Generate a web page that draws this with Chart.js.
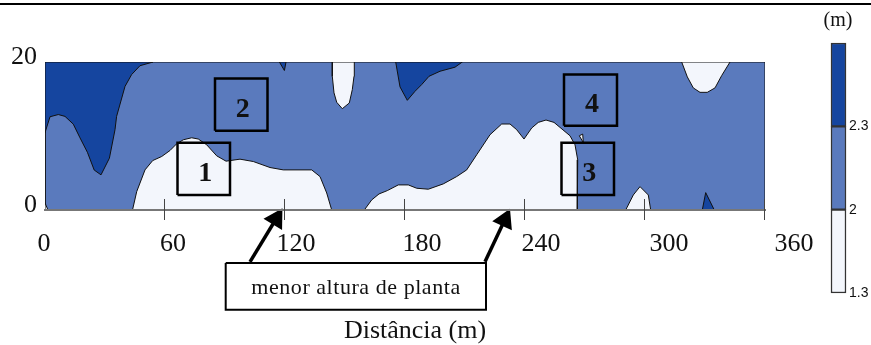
<!DOCTYPE html>
<html>
<head>
<meta charset="utf-8">
<title>Altura de planta</title>
<script src="https://cdn.jsdelivr.net/npm/chart.js@4"></script>
<style>
  html, body { margin: 0; padding: 0; background: #fff; }
  #wrap { position: relative; width: 871px; height: 345px; overflow: hidden; }
  #rule { position: absolute; left: 0; top: 3px; width: 871px; height: 2px; background: #000; }
  #chart { position: absolute; left: 0; top: 0; }
  #scale { position: absolute; left: 820px; top: 30px; }
</style>
</head>
<body>
<div id="wrap">
  <canvas id="chart" width="871" height="345"></canvas>
  <canvas id="scale" width="51" height="275"></canvas>
  <div id="rule"></div>
</div>
<script>
// contour areas, [distance m, width m]
const darkTopLeft = [[0,20],[54,20],[47.5,19.5],[43.3,18.3],[40,16.7],[35.8,12.65],[35,10.85],[32.2,7],[28,4.75],[24.6,5.4],[21.2,7.8],[17.5,9.75],[14.15,11.6],[10,12.65],[6.65,12.9],[2.5,12.6],[0,10.45]];
const darkNotch = [[117.2,20],[119.7,18.85],[120.5,20]];
const darkTopMid = [[175.35,20],[177.5,16.64],[181.15,14.82],[185,16.04],[188.35,16.95],[192,18.07],[197.5,18.75],[205,19.3],[208.65,20]];
const darkBottom = [[328.65,0],[330.35,2.35],[334.65,0]];
const lightCorner = [[0,0],[0,0.95],[1.5,0]];
const lightLeft = [[43.75,0],[45.85,2.48],[50,5.42],[53.85,6.68],[58.35,7.23],[62.5,8.04],[65.85,8.95],[69.15,9.49],[73.35,9.76],[76.65,9.59],[80.85,8.81],[85.85,7.32],[90.5,6.6],[97.5,6.87],[104.15,6.55],[112.5,5.74],[119.15,5.42],[133.35,5.42],[137.5,4.52],[140.85,2.3],[143.35,0]];
const lightDrop = [[143.65,20],[143.65,18.07],[144.5,15.83],[145.85,14.56],[148.65,13.69],[152.15,14.46],[153.65,16.27],[154.5,18.07],[154.65,20]];
const lightMid = [[159.65,0],[163.35,1.36],[167,2.17],[171.15,2.62],[176.65,3.39],[181.65,3.39],[185.85,2.94],[191.65,2.81],[199.15,3.53],[205.85,4.52],[210.85,5.42],[215.85,7.46],[222.5,10.17],[228.35,11.62],[232.5,11.62],[235.85,10.85],[239.5,9.59],[243.35,11.08],[246.65,11.84],[250.5,12.16],[254.5,11.84],[262.5,10.03],[265,8.81],[266.35,6.78],[266.15,0]];
const lightSpeck = [[267.15,10.03],[268.85,10.26],[269.15,9.12]];
const lightTopRight = [[318.35,20],[321.15,17.99],[324.15,16.5],[327.5,15.9],[331.15,15.9],[335,16.5],[338.35,18.17],[342.5,20]];
const lightBottom = [[290.35,0],[294.15,2.03],[297.5,3.16],[301.65,2.03],[302.85,0]];
const midField = [[0,0],[360,0],[360,20],[0,20]];

// numbered sample plots
const plotNames = ['1', '2', '3', '4'];
const plotXFrom = [66.25, 85, 258.25, 259.5];
const plotXTo = [92.5, 111.25, 284.5, 286];
const plotYFrom = [2.03, 10.71, 2.03, 11.39];
const plotYTo = [9.08, 17.76, 9.08, 18.3];

const noteText = 'menor altura de planta';
const noteBox = [[90.35,-7.15],[220.5,-7.15],[220.5,-13.47],[90.35,-13.47]];
const arrowOne = [[102.5,-7],[115.5,-1.22]];
const arrowTwo = [[220,-7],[229.85,-1.36]];

const xTickLabels = ['0', '60', '120', '180', '240', '300', '360'];
const yTickLabels = ['0', '20'];
const xTitle = 'Distância (m)';
const unitTitle = '(m)';

const scaleSegments = [1, 1, 1];
const scaleLabels = ['1.3', '2', '2.3', ''];

const colLight = '#f3f6fc';
const colMid = '#5a7abd';
const colDark = '#15459f';
const serif = '"Liberation Serif", serif';
const xLabelShift = [-1, 8, 11, 17, 16, 24, 29];

function toPts(list) {
  return list.map(p => ({ x: p[0], y: p[1] }));
}

function area(list, color) {
  return {
    data: toPts(list.concat([list[0]])),
    showLine: true, tension: 0, pointRadius: 0,
    borderColor: '#111', borderWidth: 1,
    backgroundColor: color, fill: 'shape'
  };
}

function outline(list, width, clip) {
  return {
    data: toPts(list.concat([list[0]])),
    showLine: true, tension: 0, pointRadius: 0,
    borderColor: '#000', borderWidth: width, fill: false, clip: clip
  };
}

function arrow(list, angle) {
  return {
    data: toPts(list),
    showLine: true, tension: 0, clip: false,
    borderColor: '#000', borderWidth: 3.5, fill: false,
    pointStyle: 'triangle',
    pointRadius: [0, 9], pointRotation: angle,
    pointBackgroundColor: '#000', pointBorderColor: '#000'
  };
}

const boxes = plotNames.map((n, i) => outline([
  [plotXFrom[i], plotYFrom[i]], [plotXTo[i], plotYFrom[i]],
  [plotXTo[i], plotYTo[i]], [plotXFrom[i], plotYTo[i]]
], 2.5, false));

// first dataset ends up on top
const datasets = [
  arrow(arrowOne, 31),
  arrow(arrowTwo, 25),
  outline(noteBox, 2, false),
  ...boxes,
  area(darkTopLeft, colDark),
  area(darkNotch, colDark),
  area(darkTopMid, colDark),
  area(darkBottom, colDark),
  area(lightCorner, colLight),
  area(lightLeft, colLight),
  area(lightDrop, colLight),
  area(lightMid, colLight),
  area(lightSpeck, colLight),
  area(lightTopRight, colLight),
  area(lightBottom, colLight),
  area(midField, colMid)
];

const extras = {
  id: 'extras',
  afterDraw(chart) {
    const { ctx } = chart;
    const x = chart.scales.x;
    const y = chart.scales.y;
    ctx.save();

    // ticks cross the axis line
    ctx.strokeStyle = '#444';
    ctx.lineWidth = 1;
    x.ticks.forEach(t => {
      if (t.value === 0) return;
      const px = Math.round(x.getPixelForValue(t.value)) - 0.5;
      ctx.beginPath();
      ctx.moveTo(px, y.bottom - 11);
      ctx.lineTo(px, y.bottom + 10);
      ctx.stroke();
    });

    ctx.fillStyle = '#111';
    ctx.textAlign = 'center';
    ctx.textBaseline = 'middle';

    ctx.font = '26px ' + serif;
    xTickLabels.forEach((label, i) => {
      ctx.fillText(label, x.getPixelForValue(Number(label)) + xLabelShift[i], y.bottom + 34);
    });
    ctx.fillText(xTitle, 415, 331);

    ctx.font = '20px ' + serif;
    ctx.fillText(unitTitle, 838, 20.5);

    ctx.font = '22px ' + serif;
    ctx.letterSpacing = '0.55px';
    ctx.fillText(noteText, 356, 288);
    ctx.letterSpacing = '0px';

    ctx.font = 'bold 28px ' + serif;
    plotNames.forEach((n, i) => {
      const cx = x.getPixelForValue((plotXFrom[i] + plotXTo[i]) / 2);
      const cy = y.getPixelForValue((plotYFrom[i] + plotYTo[i]) / 2);
      ctx.fillText(n, cx + 1.5, cy + 5);
    });
    ctx.restore();
  }
};

new Chart(document.getElementById('chart'), {
  type: 'scatter',
  data: { datasets: datasets },
  plugins: [extras],
  options: {
    responsive: false,
    animation: false,
    layout: { padding: { top: 62, right: 106, left: 0, bottom: 0 } },
    plugins: { legend: { display: false }, tooltip: { enabled: false } },
    scales: {
      x: {
        type: 'linear', min: 0, max: 360,
        grid: { display: false },
        border: { display: true, color: '#777', width: 2, z: 1 },
        ticks: {
          stepSize: 60,
          callback: () => ''
        },
        afterFit(s) { s.height = 135; }
      },
      y: {
        type: 'linear', min: 0, max: 20,
        grid: { display: false, drawTicks: false },
        border: { display: false },
        ticks: {
          stepSize: 20,
          padding: 8,
          labelOffset: -4.5,
          color: '#111',
          font: { family: serif, size: 26 },
          callback: v => yTickLabels.includes(String(v)) ? String(v) : ''
        },
        afterFit(s) { s.width = 45; }
      }
    }
  }
});

// height scale on the right
new Chart(document.getElementById('scale'), {
  type: 'bar',
  data: {
    labels: [''],
    datasets: [colLight, colMid, colDark].map((c, i) => ({
      data: [scaleSegments[i]],
      backgroundColor: c,
      borderColor: '#333',
      borderWidth: 1.5,
      borderSkipped: false,
      clip: false,
      barPercentage: 1,
      categoryPercentage: 1
    }))
  },
  options: {
    responsive: false,
    animation: false,
    layout: { padding: { top: 13, bottom: 12, left: 11, right: 0 } },
    plugins: { legend: { display: false }, tooltip: { enabled: false } },
    scales: {
      x: { stacked: true, display: false },
      y: {
        stacked: true, position: 'right', min: 0, max: 3,
        grid: { display: false, drawTicks: false },
        border: { display: false },
        ticks: {
          stepSize: 1,
          padding: 3,
          color: '#111',
          font: { family: '"Liberation Sans", sans-serif', size: 14 },
          callback: (v, i) => scaleLabels[i]
        },
        afterFit(s) { s.width = 25; }
      }
    }
  }
});
</script>
</body>
</html>
